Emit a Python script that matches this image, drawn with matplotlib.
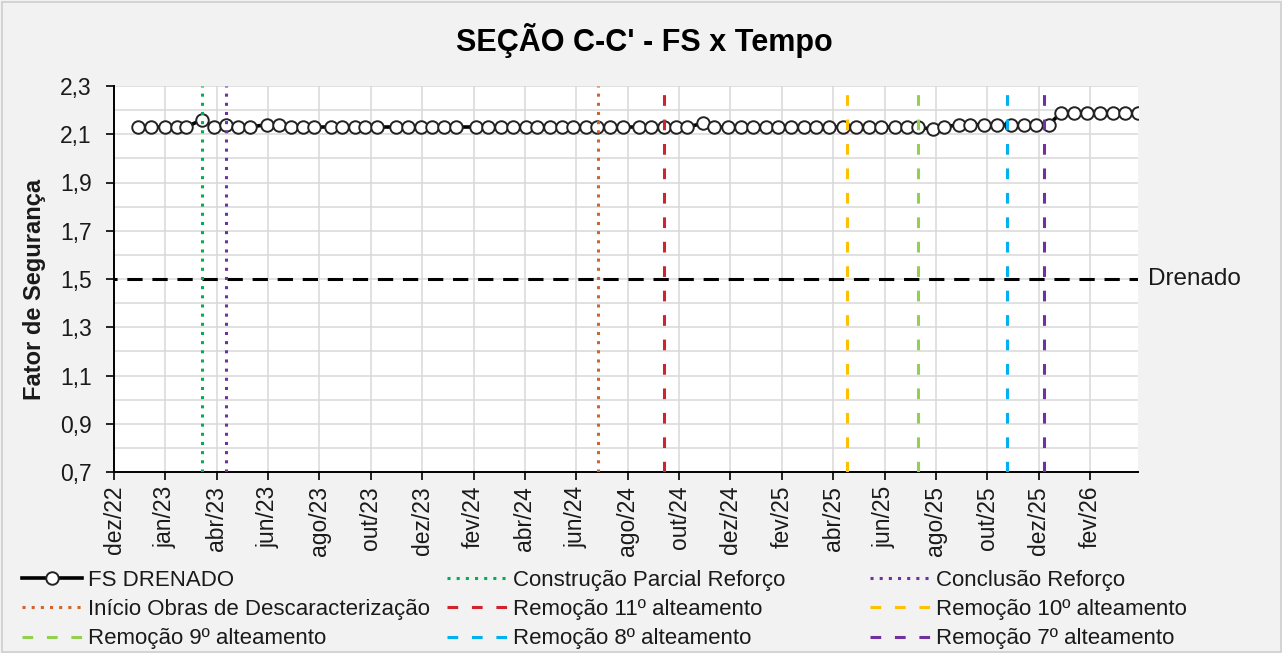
import numpy as np
import matplotlib
matplotlib.use("Agg")
import matplotlib.pyplot as plt
from matplotlib.patches import Rectangle
from matplotlib.ticker import FixedLocator, MultipleLocator, FuncFormatter

plt.rcParams['font.family'] = ['Liberation Sans', 'DejaVu Sans']

# ---- data -------------------------------------------------------------
origin = np.datetime64('2022-12-01')

fs_dates = np.array([
    '2022-12-30', '2023-01-14', '2023-01-30', '2023-02-14', '2023-02-25',
    '2023-03-15', '2023-03-30', '2023-04-13', '2023-04-27', '2023-05-11',
    '2023-06-01', '2023-06-15', '2023-06-29', '2023-07-13', '2023-07-26',
    '2023-08-16', '2023-08-29', '2023-09-13', '2023-09-25', '2023-10-09',
    '2023-11-01', '2023-11-15', '2023-11-30', '2023-12-14', '2023-12-28',
    '2024-01-11', '2024-02-04', '2024-02-18', '2024-03-04', '2024-03-19',
    '2024-04-03', '2024-04-16', '2024-05-02', '2024-05-16', '2024-05-29',
    '2024-06-13', '2024-06-27', '2024-07-12', '2024-07-27', '2024-08-15',
    '2024-08-30', '2024-09-14', '2024-09-28', '2024-10-12', '2024-10-30',
    '2024-11-12', '2024-11-29', '2024-12-14', '2024-12-29', '2025-01-13',
    '2025-01-28', '2025-02-12', '2025-02-27', '2025-03-14', '2025-03-29',
    '2025-04-15', '2025-04-30', '2025-05-16', '2025-05-30', '2025-06-15',
    '2025-06-30', '2025-07-13', '2025-07-30', '2025-08-13', '2025-08-31',
    '2025-09-13', '2025-09-29', '2025-10-15', '2025-10-31', '2025-11-16',
    '2025-11-30', '2025-12-15', '2025-12-30', '2026-01-14', '2026-01-29',
    '2026-02-14', '2026-03-01', '2026-03-16', '2026-03-31',
], dtype='datetime64[D]')

fs_drenado = [
    2.13, 2.13, 2.13, 2.13, 2.13,
    2.16, 2.13, 2.14, 2.13, 2.13,
    2.14, 2.14, 2.13, 2.13, 2.13,
    2.13, 2.13, 2.13, 2.13, 2.13,
    2.13, 2.13, 2.13, 2.13, 2.13,
    2.13, 2.13, 2.13, 2.13, 2.13,
    2.13, 2.13, 2.13, 2.13, 2.13,
    2.13, 2.13, 2.13, 2.13, 2.13,
    2.13, 2.13, 2.13, 2.13, 2.145,
    2.13, 2.13, 2.13, 2.13, 2.13,
    2.13, 2.13, 2.13, 2.13, 2.13,
    2.13, 2.13, 2.13, 2.13, 2.13,
    2.13, 2.13, 2.12, 2.13, 2.14,
    2.14, 2.14, 2.14, 2.14, 2.14,
    2.14, 2.14, 2.19, 2.19, 2.19,
    2.19, 2.19, 2.19, 2.19,
]

fs_limite = 1.5
limite_label = 'Drenado'

event_labels = [
    'Construção Parcial Reforço',
    'Conclusão Reforço',
    'Início Obras de Descaracterização',
    'Remoção 11º alteamento',
    'Remoção 10º alteamento',
    'Remoção 9º alteamento',
    'Remoção 8º alteamento',
    'Remoção 7º alteamento',
]
event_dates = np.array([
    '2023-03-15', '2023-04-13', '2024-06-28', '2024-09-14',
    '2025-04-20', '2025-07-13', '2025-10-27', '2025-12-09',
], dtype='datetime64[D]')

tick_labels = ['dez/22', 'jan/23', 'abr/23', 'jun/23', 'ago/23', 'out/23',
               'dez/23', 'fev/24', 'abr/24', 'jun/24', 'ago/24', 'out/24',
               'dez/24', 'fev/25', 'abr/25', 'jun/25', 'ago/25', 'out/25',
               'dez/25', 'fev/26']
tick_step_days = 61
x_max_days = 1216

y_ticks = [0.7, 0.9, 1.1, 1.3, 1.5, 1.7, 1.9, 2.1, 2.3]

# ---- styles -----------------------------------------------------------
event_colors = ['#00b050', '#7030a0', '#d2642a', '#d0232d',
                '#ffc000', '#92d050', '#00b0f0', '#7030a0']
dot = (0, (1, 2))
dash = (0, (3.5, 4.5))
event_styles = [dot, dot, dot, dash, dash, dash, dash, dash]

text_color = '#1a1a1a'
grid_color = '#d9d9d9'

# ---- figure -----------------------------------------------------------
W, H = 1282, 653
fig = plt.figure(figsize=(W / 100, H / 100), dpi=100, facecolor='#f2f2f2')

left, right, top, bottom = 114, 1138, 86, 472
ax = fig.add_axes([left / W, 1 - bottom / H, (right - left) / W, (bottom - top) / H])
ax.set_facecolor('white')

x_fs = (fs_dates - origin).astype(int)
x_ev = (event_dates - origin).astype(int)

# reference line
ax.axhline(fs_limite, color='black', lw=2.2, linestyle=(4, (5, 3.2)), zorder=2)

# data series
fs_line, = ax.plot(x_fs, fs_drenado, color='black', lw=2.6, marker='o',
                   markersize=9, markerfacecolor='white',
                   markeredgecolor='#222222', markeredgewidth=1.4,
                   zorder=3, label='FS DRENADO')

# event markers
ev_handles = []
for xv, lab, col, ls in zip(x_ev, event_labels, event_colors, event_styles):
    h = ax.axvline(xv, color=col, lw=2.2, linestyle=ls, zorder=4, label=lab)
    ev_handles.append(h)

# axes
ax.set_xlim(0, x_max_days)
ax.set_ylim(y_ticks[0], y_ticks[-1])
ax.xaxis.set_major_locator(FixedLocator(np.arange(len(tick_labels)) * tick_step_days))
ax.set_xticklabels(tick_labels, rotation=90, fontsize=16.5, color=text_color)
ax.yaxis.set_major_locator(FixedLocator(y_ticks))
ax.yaxis.set_minor_locator(MultipleLocator(0.1))
ax.yaxis.set_major_formatter(FuncFormatter(lambda v, p: f'{v:.1f}'.replace('.', ',')))
ax.tick_params(axis='y', labelsize=16.5, labelcolor=text_color, length=6,
               width=1.2, pad=10, direction='out')
ax.tick_params(axis='y', which='minor', length=0)
ax.tick_params(axis='x', length=6, width=1.2, pad=4, direction='out')

ax.grid(True, which='major', axis='both', color=grid_color, lw=1.1, zorder=0)
ax.grid(True, which='minor', axis='y', color=grid_color, lw=1.1, zorder=0)
ax.set_axisbelow(True)

for s in ['top', 'right']:
    ax.spines[s].set_visible(False)
for s in ['left', 'bottom']:
    ax.spines[s].set_color('black')
    ax.spines[s].set_linewidth(1.4)

# texts
fig.text(644 / W, 1 - 40 / H, "SEÇÃO C-C' - FS x Tempo", ha='center', va='center',
         fontsize=22, fontweight='bold', color='black')
fig.text(35 / W, 1 - 289 / H, 'Fator de Segurança', rotation=90, ha='center',
         va='center', fontsize=17, fontweight='bold', color=text_color)
fig.text(1148 / W, 1 - 279 / H, limite_label, ha='left', va='center',
         fontsize=17.5, color=text_color)

# legend in three columns
handles = [fs_line] + ev_handles
cols = [[0, 3, 6], [1, 4, 7], [2, 5, 8]]
col_x = [22, 447, 870]
for cx, idx in zip(col_x, cols):
    hs = [handles[i] for i in idx]
    fig.legend(hs, [h.get_label() for h in hs], loc='upper left',
               bbox_to_anchor=(cx / W, 1 - 570 / H), frameon=False,
               fontsize=16, handlelength=2.7, handletextpad=0.28,
               borderpad=0, borderaxespad=0, labelspacing=0.37,
               labelcolor=text_color)

fig.add_artist(Rectangle((1.5 / W, 1.5 / H), (W - 3) / W, (H - 3) / H,
                         transform=fig.transFigure, fill=False,
                         edgecolor='#cfcfcf', lw=1.2))

fig.savefig('out.png', dpi=100, facecolor=fig.get_facecolor())
